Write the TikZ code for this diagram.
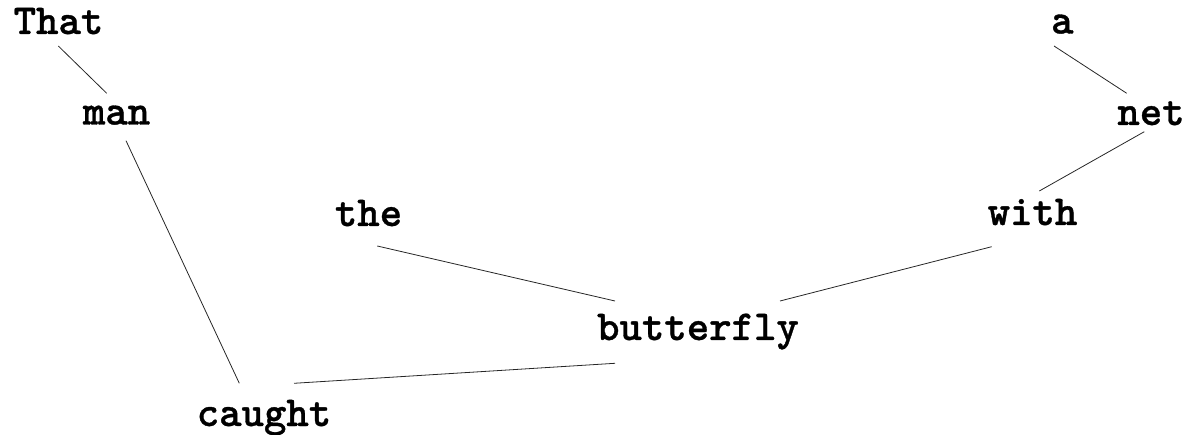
\documentclass[tikz,border=0pt]{standalone}
\usepackage{fontspec}
\newfontfamily\wordfont[FakeBold=0.8]{lmmonolt10-bold.otf}
\usetikzlibrary{calc}
\begin{document}
\begin{tikzpicture}[x=1pt,y=-1pt,
  word/.style={anchor=base,inner sep=0pt,font=\fontsize{42.7}{46}\selectfont\wordfont},
  link/.style={line width=0.8pt,black!85}]
\useasboundingbox (0,0) rectangle (1186,435);
\node[word] (that) at (58.5,34) {That};
\node[word] (man) at (116.5,124.5) {man};
\node[word] (a) at (1062.3,33.5) {a};
\node[word] (net) at (1151,125) {net};
\node[word] (with) at (1032.5,225) {with};
\node[word] (the) at (368.5,226) {the};
\node[word] (butterfly) at (698,340) {butterfly};
\node[word] (caught) at (264,426) {caught};
\draw[link] ($(that.base)+(-0.2,12)$) -- ($(man.base)+(-9.8,-31.2)$);
\draw[link] ($(man.base)+(9.5,16.2)$) -- ($(caught.base)+(-24.7,-42.7)$);
\draw[link] ($(the.base)+(8.8,20)$) -- ($(butterfly.base)+(-83,-39)$);
\draw[link] ($(with.base)+(-40.8,21.7)$) -- ($(butterfly.base)+(82,-39)$);
\draw[link] ($(butterfly.base)+(-83,23.3)$) -- ($(caught.base)+(30,-42.7)$);
\draw[link] ($(net.base)+(-6.7,6.7)$) -- ($(with.base)+(6.8,-34)$);
\draw[link] ($(a.base)+(-8.3,12.5)$) -- ($(net.base)+(-24.3,-31.7)$);
\end{tikzpicture}
\end{document}
